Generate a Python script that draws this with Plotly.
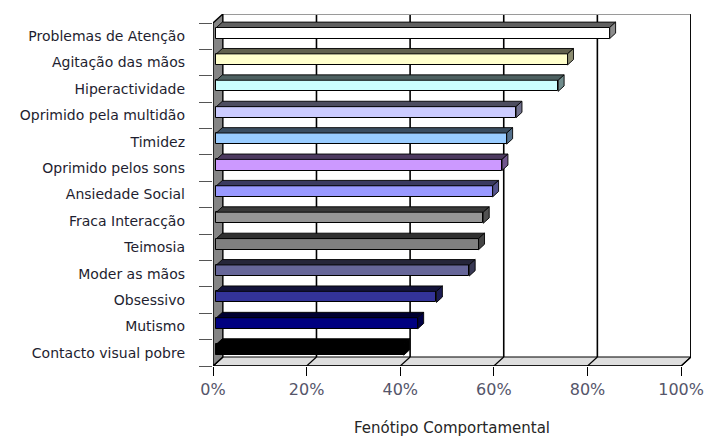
import plotly.graph_objects as go

# Behavioural phenotype frequencies (top to bottom as displayed)
categories = [
    "Problemas de Atenção",
    "Agitação das mãos",
    "Hiperactividade",
    "Oprimido pela multidão",
    "Timidez",
    "Oprimido pelos sons",
    "Ansiedade Social",
    "Fraca Interacção",
    "Teimosia",
    "Moder as mãos",
    "Obsessivo",
    "Mutismo",
    "Contacto visual pobre",
]
values = [84, 75, 73, 64, 62, 61, 59, 57, 56, 54, 47, 43, 40]
bar_colors = [
    "#FFFFFF", "#FFFFCC", "#CCFFFF", "#CCCCFF", "#99CCFF", "#CC99FF", "#9999FF",
    "#969696", "#808080", "#666699", "#333399", "#000080", "#000000",
]
x_tick_values = [0, 20, 40, 60, 80, 100]
x_tick_labels = ["0%", "20%", "40%", "60%", "80%", "100%"]
x_title = "Fenótipo Comportamental"

# ---- page / plot-box geometry (pixels) ----
W, H = 716, 438
PLOT_L, PLOT_R, PLOT_T, PLOT_B = 213, 698, 14, 366
DEPTH_X_PX, DEPTH_Y_PX = 10, 9          # 3-D depth offset of the back wall
n = len(categories)
front_w = PLOT_R - PLOT_L - DEPTH_X_PX   # pixels spanned by 0..100 on the front plane
front_h = PLOT_B - PLOT_T - DEPTH_Y_PX   # pixels spanned by the categories
DX = DEPTH_X_PX * 100.0 / front_w        # depth offset in data units
DY = DEPTH_Y_PX * n / front_h

F0, F1 = 0.35, 0.95                      # bar front / back depth fractions
BAR_H = 0.42                             # bar thickness in category units

# bottom-up order for the numeric y positions
cats_b = categories[::-1]
vals_b = values[::-1]
cols_b = bar_colors[::-1]
ypos = list(range(n))


def shade(hex_color, f):
    h = hex_color.lstrip("#")
    r, g, b = (int(h[i:i + 2], 16) for i in (0, 2, 4))
    return "#%02x%02x%02x" % (int(r * f), int(g * f), int(b * f))


def path(points):
    return "M " + " L ".join(f"{x},{y}" for x, y in points) + " Z"


y_lo, y_hi = -0.5, n - 0.5
shapes = []
# back wall
shapes.append(dict(type="rect", xref="x", yref="y", layer="below",
                   x0=DX, x1=100 + DX, y0=y_lo + DY, y1=y_hi + DY,
                   fillcolor="white", line=dict(width=0)))
# back wall grid lines
for v in x_tick_values[1:]:
    shapes.append(dict(type="line", xref="x", yref="y", layer="below",
                       x0=v + DX, x1=v + DX, y0=y_lo + DY, y1=y_hi + DY,
                       line=dict(color="black", width=1.6)))
# back wall top edge
shapes.append(dict(type="line", xref="x", yref="y", layer="below",
                   x0=DX, x1=100 + DX, y0=y_hi + DY, y1=y_hi + DY,
                   line=dict(color="#9a9a9a", width=2)))
# floor
shapes.append(dict(type="path", xref="x", yref="y", layer="below",
                   path=path([(0, y_lo), (100, y_lo), (100 + DX, y_lo + DY), (DX, y_lo + DY)]),
                   fillcolor="#dedede", line=dict(color="black", width=1.2)))
for v in x_tick_values:
    shapes.append(dict(type="line", xref="x", yref="y", layer="below",
                       x0=v, x1=v + DX, y0=y_lo, y1=y_lo + DY,
                       line=dict(color="black", width=1.2)))
# left wall
shapes.append(dict(type="path", xref="x", yref="y", layer="below",
                   path=path([(0, y_lo), (DX, y_lo + DY), (DX, y_hi + DY), (0, y_hi)]),
                   fillcolor="#858585", line=dict(color="black", width=1.4)))
# front bottom edge
shapes.append(dict(type="line", xref="x", yref="y", layer="below",
                   x0=0, x1=100, y0=y_lo, y1=y_lo,
                   line=dict(color="black", width=1.4)))
# right edge of the back wall
shapes.append(dict(type="line", xref="x", yref="y", layer="below",
                   x0=100 + DX, x1=100 + DX, y0=y_lo + DY, y1=y_hi + DY,
                   line=dict(color="black", width=1.6)))

fig = go.Figure()

# front faces of the bars
fig.add_trace(go.Bar(
    orientation="h", y=[p + F0 * DY for p in ypos], x=vals_b, base=F0 * DX,
    width=BAR_H, marker=dict(color=cols_b, line=dict(color="black", width=1)),
    hoverinfo="skip", showlegend=False,
))

# top faces and end caps
for p, v, c in zip(ypos, vals_b, cols_b):
    top = p + BAR_H / 2
    bot = p - BAR_H / 2
    top_face = [(F0 * DX, top + F0 * DY), (v + F0 * DX, top + F0 * DY),
                (v + F1 * DX, top + F1 * DY), (F1 * DX, top + F1 * DY)]
    cap = [(v + F0 * DX, bot + F0 * DY), (v + F1 * DX, bot + F1 * DY),
           (v + F1 * DX, top + F1 * DY), (v + F0 * DX, top + F0 * DY)]
    for pts, fc in ((top_face, shade(c, 0.38)), (cap, shade(c, 0.55))):
        xs = [q[0] for q in pts] + [pts[0][0]]
        ys = [q[1] for q in pts] + [pts[0][1]]
        fig.add_trace(go.Scatter(
            x=xs, y=ys, mode="lines", fill="toself", fillcolor=fc,
            line=dict(color="black", width=0.9), hoverinfo="skip", showlegend=False,
        ))

fig.update_layout(
    width=W, height=H,
    margin=dict(l=PLOT_L, r=W - PLOT_R, t=PLOT_T, b=H - PLOT_B, pad=0),
    paper_bgcolor="white", plot_bgcolor="white",
    bargap=0, showlegend=False, shapes=shapes,
    font=dict(family="DejaVu Sans", color="#222"),
    xaxis=dict(
        range=[0, 100 + DX], tickmode="array", tickvals=x_tick_values,
        ticktext=x_tick_labels, ticks="outside", ticklen=9, tickwidth=1.4,
        tickcolor="black", showgrid=False, zeroline=False, showline=False,
        tickfont=dict(size=16, color="#55556a"), fixedrange=True,
    ),
    yaxis=dict(
        range=[y_lo, y_hi + DY], tickmode="array", tickvals=ypos, ticktext=cats_b,
        ticks="", showgrid=False, zeroline=False, showline=False,
        ticklabelstandoff=27, tickfont=dict(size=14, color="#1e1e30"),
        minor=dict(tickmode="array", tickvals=[p - 0.5 for p in ypos] + [y_hi],
                   ticks="outside", ticklen=13, tickwidth=1.2, tickcolor="#555",
                   showgrid=False),
        fixedrange=True,
    ),
    annotations=[dict(
        text=x_title, xref="paper", yref="paper", x=0.5,
        y=-(428 - PLOT_B) / (PLOT_B - PLOT_T),
        xanchor="center", yanchor="middle", showarrow=False,
        font=dict(size=15, color="#262626"),
    )],
)

fig.write_html("out.html")
